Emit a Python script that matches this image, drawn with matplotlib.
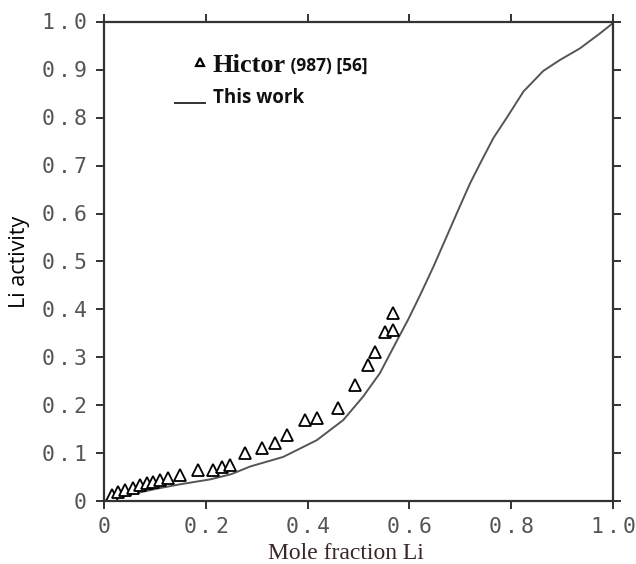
import matplotlib
matplotlib.use("Agg")
import matplotlib.pyplot as plt
from matplotlib.transforms import offset_copy, blended_transform_factory

# Calculated Li activity ("This work")
calc_x = [0.0, 0.05, 0.10, 0.15, 0.208, 0.25, 0.287, 0.352, 0.418, 0.470, 0.509,
          0.542, 0.575, 0.598, 0.621, 0.647, 0.673, 0.696, 0.719, 0.739, 0.765,
          0.791, 0.824, 0.863, 0.896, 0.935, 0.974, 1.0]
calc_y = [0.0, 0.013, 0.025, 0.035, 0.045, 0.056, 0.072, 0.092, 0.127, 0.169, 0.218,
          0.267, 0.334, 0.380, 0.430, 0.489, 0.552, 0.608, 0.663, 0.705, 0.758,
          0.800, 0.855, 0.898, 0.921, 0.945, 0.976, 0.998]

# Experimental activities (Hictor)
exp_x = [0.016, 0.028, 0.041, 0.057, 0.071, 0.084, 0.096, 0.110, 0.126, 0.149,
         0.185, 0.214, 0.232, 0.248, 0.277, 0.310, 0.336, 0.359, 0.395, 0.418,
         0.460, 0.493, 0.519, 0.532, 0.552, 0.568, 0.568]
exp_y = [0.013, 0.019, 0.023, 0.027, 0.033, 0.037, 0.040, 0.044, 0.048, 0.054,
         0.065, 0.065, 0.071, 0.075, 0.100, 0.111, 0.121, 0.138, 0.169, 0.173,
         0.194, 0.242, 0.284, 0.311, 0.353, 0.357, 0.392]

x_ticks = [0.0, 0.2, 0.4, 0.6, 0.8, 1.0]
x_tick_labels = ["0", "0.2", "0.4", "0.6", "0.8", "1.0"]
y_ticks = [0.0, 0.1, 0.2, 0.3, 0.4, 0.5, 0.6, 0.7, 0.8, 0.9, 1.0]
y_tick_labels = ["0", "0.1", "0.2", "0.3", "0.4", "0.5", "0.6", "0.7", "0.8", "0.9", "1.0"]

fig = plt.figure(figsize=(6.36, 5.64), dpi=100)
ax = fig.add_axes([0.1635, 0.1117, 0.8005, 0.8493])

ax.plot(calc_x, calc_y, color="#555555", lw=1.4)
ax.plot(exp_x, exp_y, linestyle="none", marker="^", markersize=9,
        markerfacecolor="white", markeredgecolor="black", markeredgewidth=1.3)

ax.set_xlim(0, 1.0)
ax.set_ylim(0, 1.0)
ax.set_xticks(x_ticks)
ax.set_yticks(y_ticks)
ax.tick_params(axis="both", direction="out", length=6, width=1.4, color="#333333",
               top=True, right=True, labeltop=False, labelright=False,
               labelbottom=False, labelleft=False)
for sp in ax.spines.values():
    sp.set_linewidth(1.6)
    sp.set_color("#333333")

# Widely spaced monospace tick labels, one glyph per cell
mono = "DejaVu Sans Mono"
tick_fs = 15.5
cell = 16  # px between glyph centres
tick_color = "#555555"

y_base = blended_transform_factory(ax.transAxes, ax.transData)
for v, s in zip(y_ticks, y_tick_labels):
    n = len(s)
    for i, ch in enumerate(s):
        tr = offset_copy(y_base, fig=fig, x=-(24 + cell * (n - 1 - i)), y=-7.5, units="dots")
        ax.text(0, v, ch, transform=tr, ha="center", va="baseline", fontfamily=mono,
                fontsize=tick_fs, color=tick_color, clip_on=False)

x_base = blended_transform_factory(ax.transData, ax.transAxes)
for v, s in zip(x_ticks, x_tick_labels):
    n = len(s)
    for i, ch in enumerate(s):
        tr = offset_copy(x_base, fig=fig, x=(i - (n - 1) / 2) * cell, y=-32, units="dots")
        ax.text(v, 0, ch, transform=tr, ha="center", va="baseline", fontfamily=mono,
                fontsize=tick_fs, color=tick_color, clip_on=False)

ax.set_ylabel("Li activity", fontfamily="Open Sans", fontsize=15.5, color="black")
ax.yaxis.set_label_coords(-0.145, 0.5)
ax.set_xlabel("Mole fraction Li", fontfamily="Liberation Serif", fontsize=17,
              color="#3a2626")
ax.xaxis.set_label_coords(0.475, -0.087)

# Hand-drawn legend
ax.plot([0.189], [0.916], linestyle="none", marker="^", markersize=6,
        markerfacecolor="white", markeredgecolor="black", markeredgewidth=1.6)
t1 = ax.text(0.214, 0.909, "Hictor", fontfamily="Liberation Serif", fontweight="bold",
             fontsize=19, color="#111111", va="center", ha="left")
ax.plot([0.139, 0.198], [0.831, 0.831], color="#333333", lw=1.4)
ax.text(0.214, 0.842, "This work", fontfamily="Open Sans", fontweight="bold",
        fontsize=13.5, color="#111111", va="center", ha="left")

fig.canvas.draw()
bb = t1.get_window_extent(renderer=fig.canvas.get_renderer())
x_after = ax.transAxes.inverted().transform((bb.x1, bb.y0))[0]
ax.text(x_after, 0.909, " (987) [56]", fontfamily="Open Sans", fontweight="bold",
        fontsize=12.5, color="#111111", va="center", ha="left")

fig.savefig("out.png", dpi=100, facecolor="white")
